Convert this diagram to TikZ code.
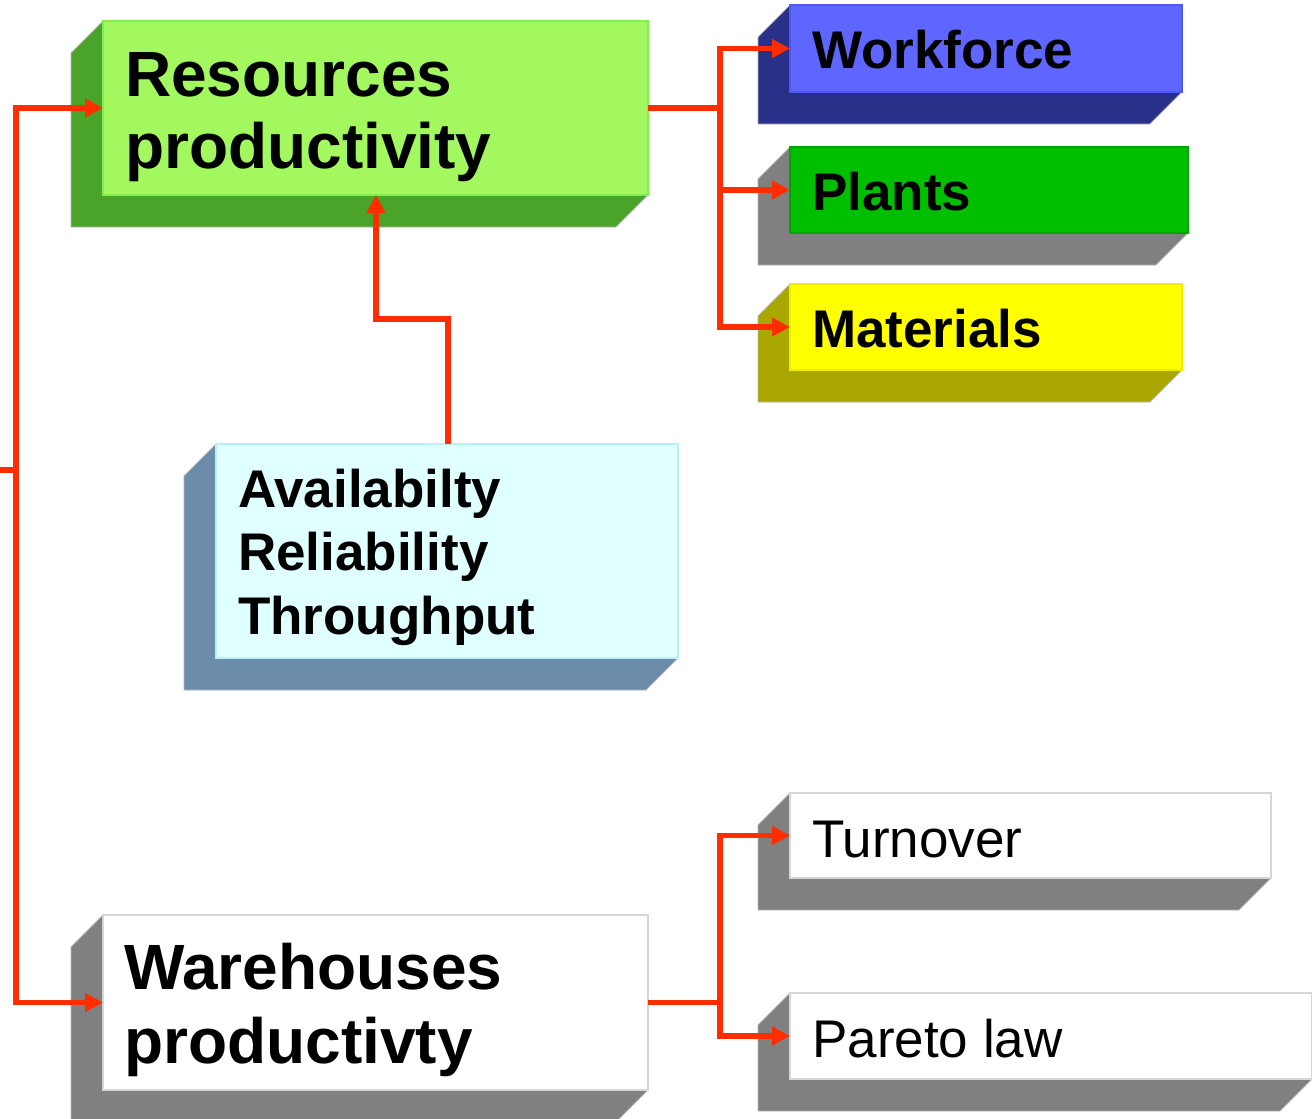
\documentclass[tikz,border=0pt]{standalone}
\usepackage{fontspec}
\setmainfont{Liberation Sans}
\usetikzlibrary{arrows.meta,fit}

\definecolor{wire}{HTML}{FF2D00}
\definecolor{rimgray}{HTML}{B4B4B4}
\definecolor{sidegray}{HTML}{808080}
% face / border / side colours
\definecolor{resface}{HTML}{A2F85E}\definecolor{resrim}{HTML}{80EE4E}\definecolor{resside}{HTML}{4AA42A}
\definecolor{wfface}{HTML}{5F66FF}\definecolor{wfrim}{HTML}{5058F2}\definecolor{wfside}{HTML}{283089}
\definecolor{plface}{HTML}{00BE00}\definecolor{plrim}{HTML}{00A600}
\definecolor{mtface}{HTML}{FFFF00}\definecolor{mtrim}{HTML}{EDED00}\definecolor{mtside}{HTML}{AAA800}
\definecolor{avface}{HTML}{E0FFFF}\definecolor{avrim}{HTML}{BCEEF8}\definecolor{avside}{HTML}{6C8CAB}
\definecolor{wtrim}{HTML}{D6D6D6}

% extruded slab: #1 name, #2 x1, #3 y1, #4 x2, #5 y2, #6 face fill, #7 face rim, #8 side colour
\newcommand\slab[8]{%
  \fill[#8, draw=rimgray, line width=0.8pt]
    (#2,#3) -- (#4,#3) -- (#4,#5) -- ({#4-32},{#5+32}) -- ({#2-32},{#5+32}) -- ({#2-32},{#3+32}) -- cycle;
  \node[fit={(#2,#3)(#4,#5)}, inner sep=0pt, outer sep=0pt, fill=#6, draw=#7, line width=2.5pt] (#1) {};
}

\begin{document}
\begin{tikzpicture}[x=1pt,y=-1pt,
  conn/.style={draw=wire, line width=5.5pt},
  tip/.style={-{Triangle[length=18pt,width=18pt]}},
  bigtxt/.style={anchor=base west, inner sep=0pt, font=\fontsize{64}{72}\selectfont\bfseries},
  boldtxt/.style={anchor=base west, inner sep=0pt, font=\fontsize{53}{60}\selectfont\bfseries},
  plaintxt/.style={anchor=base west, inner sep=0pt, font=\fontsize{53}{60}\selectfont}]
\clip (0,0) rectangle (1312,1119);

% boxes
\slab{res}{103}{21}{648}{195}{resface}{resrim}{resside}
\slab{wf}{790}{5}{1182}{92}{wfface}{wfrim}{wfside}
\slab{pl}{790}{147}{1188}{233}{plface}{plrim}{sidegray}
\slab{mt}{790}{284}{1182}{370}{mtface}{mtrim}{mtside}
\slab{av}{216}{444}{678}{658}{avface}{avrim}{avside}
\slab{wh}{103}{915}{648}{1090}{white}{wtrim}{sidegray}
\slab{to}{790}{793}{1271}{878}{white}{wtrim}{sidegray}
\slab{pa}{790}{993}{1312}{1079}{white}{wtrim}{sidegray}

% labels
\node[bigtxt] (resA) at (125,96) {Resources};
\node[bigtxt] (resB) at (125,168) {productivity};
\node[boldtxt] (wfT) at (812,68) {Workforce};
\node[boldtxt] (plT) at (812,210) {Plants};
\node[boldtxt] (mtT) at (812,347) {Materials};
\node[boldtxt] (avA) at (238,507) {Availabilty};
\node[boldtxt] (avB) at (238,570) {Reliability};
\node[boldtxt] (avC) at (238,634) {Throughput};
\node[bigtxt] (whA) at (124,989) {Warehouses};
\node[bigtxt] (whB) at (124,1063) {productivty};
\node[plaintxt] (toT) at (812,857) {Turnover};
\node[plaintxt] (paT) at (812,1057) {Pareto law};

% junction points
\coordinate (feed) at (0,470);
\coordinate (trunk) at (16,470);
\coordinate (rj) at (res.east -| 720,0);
\coordinate (wj) at (wh.east -| 720,0);
\coordinate (avtop) at (448,444);
\coordinate (bend) at (376,319);

% connectors
\draw[conn] (feed) -- (trunk);
\draw[conn,tip] (trunk) |- (res.west);
\draw[conn,tip] (trunk) |- (wh.west);
\draw[conn,tip] (res.east) -- (rj) |- (wf.west);
\draw[conn,tip] (rj) |- (pl.west);
\draw[conn,tip] (rj) |- (mt.west);
\draw[conn,tip] (avtop) |- (bend) -- (bend |- res.south);
\draw[conn,tip] (wh.east) -- (wj) |- (to.west);
\draw[conn,tip] (wj) |- (pa.west);
\end{tikzpicture}
\end{document}
